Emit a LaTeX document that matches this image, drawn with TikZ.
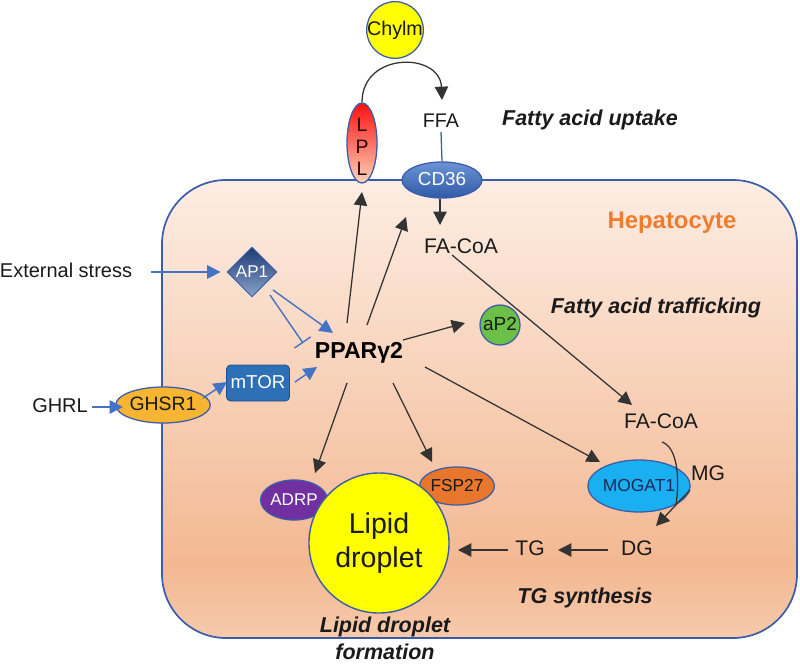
\documentclass[tikz,border=0pt]{standalone}
\usepackage{fontspec}
\setmainfont{Liberation Sans}
\usetikzlibrary{shapes.geometric,arrows.meta,calc}
\definecolor{txt}{HTML}{1A1A1A}
\definecolor{lineblk}{HTML}{333333}
\definecolor{arrblue}{HTML}{4472C4}
\definecolor{edgeblue}{HTML}{3B5CA8}
\definecolor{cellT}{HTML}{FDEDE3}
\definecolor{cellM}{HTML}{F8D4BD}
\definecolor{cellD}{HTML}{F3B892}
\definecolor{cellE}{HTML}{F6CAAC}
\definecolor{hep}{HTML}{ED7D31}
\definecolor{chyl}{HTML}{FFFF00}
\definecolor{lplTop}{HTML}{FF1010}
\definecolor{lplBot}{HTML}{FBD4B8}
\definecolor{cdTop}{HTML}{6C93D6}
\definecolor{cdBot}{HTML}{2F5AA6}
\definecolor{apTop}{HTML}{1C3A72}
\definecolor{apBot}{HTML}{8AA3CC}
\definecolor{mtor}{HTML}{2E70B6}
\definecolor{mtorEdge}{HTML}{1F4E8C}
\definecolor{ghsr}{HTML}{F8B532}
\definecolor{aptwo}{HTML}{6CBF47}
\definecolor{adrp}{HTML}{7030A0}
\definecolor{fsp}{HTML}{E8762D}
\definecolor{mogat}{HTML}{19AFF0}
\definecolor{mogtxt}{HTML}{1B2A5A}
\pgfdeclareverticalshading{cellshade}{100bp}{color(0bp)=(cellE); color(25bp)=(cellE); color(33bp)=(cellD); color(55bp)=(cellM); color(75bp)=(cellT); color(100bp)=(cellT)}
\tikzset{
  lbl/.style={inner sep=0pt, text height=0.72em, text depth=0pt, text=txt, font=\fontsize{14.2}{17}\selectfont},
  lblb/.style={lbl, font=\fontsize{15}{18}\selectfont},
  hd/.style={inner sep=0pt, text=txt, text height=0.72em, text depth=0pt, font=\fontsize{15.3}{19}\selectfont\bfseries\itshape},
  prot/.style={ellipse, draw=edgeblue, line width=0.9pt, inner sep=0pt, text height=0.72em, text depth=0pt},
  blk/.style={draw=lineblk, line width=0.9pt, -{Triangle[length=9.5pt,width=9.5pt]}},
  blu/.style={draw=arrblue, line width=1pt, -{Triangle[length=9.5pt,width=9.5pt]}},
  inh/.style={draw=arrblue, line width=1pt, -{Bar[width=14pt,line width=1pt]}},
  plainln/.style={draw=lineblk, line width=0.9pt}
}
\begin{document}
\begin{tikzpicture}[x=0.025cm, y=-0.025cm]
\useasboundingbox (0,0) rectangle (800,664);
\fill[white] (0,0) rectangle (800,664);
% cell
\shadedraw[shading=cellshade, draw=edgeblue, line width=1.2pt, rounded corners=1.6cm] (162,180) rectangle (797,638);

% membrane proteins and outside
\node[circle, fill=chyl, draw=edgeblue, line width=0.9pt, minimum size=1.4cm, inner sep=0pt, text height=0.72em, text depth=0pt, font=\fontsize{14}{17}\selectfont, text=txt] (chylm) at (395,30) {Chylm};
\node[prot, top color=lplTop, bottom color=lplBot, minimum width=0.75cm, minimum height=2cm] (lpl) at (362,143) {};
\node[inner sep=0pt, align=center, text=black!85!red, font=\fontsize{13.8}{15.5}\selectfont] (lpltxt) at (362,147) {L\\P\\L};
\node[lbl, font=\fontsize{14}{17}\selectfont] (ffa) at (441,122) {FFA};
\node[prot, top color=cdTop, bottom color=cdBot, minimum width=2cm, minimum height=0.9cm, text=white, font=\fontsize{13.4}{16}\selectfont] (cd36) at (442,180) {CD36};
\node[hd] (upt) at (590,120) {Fatty acid uptake};

% left side
\node[lbl] (ext) at (66,272) {External stress};
\node[lbl] (ghrl) at (60,407) {GHRL};
\node[diamond, top color=apTop, bottom color=apBot, draw=edgeblue, line width=0.6pt, minimum width=1.25cm, minimum height=1.25cm, inner sep=0pt, text=white, text height=0.72em, text depth=0pt, font=\fontsize{12.1}{14}\selectfont] (ap1) at (252,272) {AP1};
\node[rectangle, rounded corners=3pt, fill=mtor, draw=mtorEdge, line width=0.6pt, minimum width=1.575cm, minimum height=0.9cm, inner sep=0pt, text=white, text height=0.72em, text depth=0pt, font=\fontsize{13.3}{16}\selectfont] (mtor) at (258,383) {mTOR};
\node[prot, fill=ghsr, minimum width=1.95cm, minimum height=0.9cm, text=txt, font=\fontsize{13.8}{16}\selectfont] (ghsr1) at (163,405) {GHSR1};

% centre
\node[inner sep=0pt, text height=0.72em, text depth=0pt, text=black, font=\fontsize{16.4}{19}\selectfont\bfseries] (ppar) at (359,353) {PPARγ2};
\node[inner sep=0pt, text height=0.72em, text depth=0pt, text=hep, font=\fontsize{17}{20}\selectfont\bfseries] (hepa) at (672,223) {Hepatocyte};
\node[lblb] (facoa1) at (461,248) {FA-CoA};
\node[hd] (traf) at (656,308) {Fatty acid trafficking};
\node[circle, fill=aptwo, draw=edgeblue, line width=0.9pt, minimum size=1cm, inner sep=0pt, text height=0.72em, text depth=0pt, text=txt, font=\fontsize{13.5}{16}\selectfont] (ap2) at (500,325) {aP2};
\node[lblb] (facoa2) at (661,423) {FA-CoA};
\node[lblb] (mg) at (708,475) {MG};
\node[prot, fill=mogat, minimum width=2.05cm, minimum height=1.3cm, text=mogtxt, font=\fontsize{12.4}{15}\selectfont] (mogat) at (639,486) {MOGAT1};
\node[lblb] (dg) at (637,550) {DG};
\node[lblb] (tg) at (530,550) {TG};
\node[hd] (tgs) at (585,598) {TG synthesis};

% lipid droplet
\node[prot, fill=adrp, minimum width=1.35cm, minimum height=1cm, text=white, font=\fontsize{12.1}{14}\selectfont] (adrp) at (294,500) {ADRP};
\node[prot, fill=fsp, minimum width=1.425cm, minimum height=0.95cm, text=txt, font=\fontsize{12.3}{14}\selectfont] (fsp) at (457,486) {FSP27};
\node[circle, fill=chyl, draw=edgeblue, line width=1pt, minimum size=3.5cm, inner sep=0pt, align=center, text=txt, font=\fontsize{20.3}{24.2}\selectfont] (drop) at (379,543) {Lipid\\droplet};
\node[inner sep=0pt, align=center, text=txt, font=\fontsize{15.3}{19.2}\selectfont\bfseries\itshape] (ldf) at (385,638) {Lipid droplet\\formation};

\coordinate (uptk) at (406,217);

% black connectors
\draw[blk] (lpl.north) .. controls ($(lpl.north)+(0,-51)$) and ($(ffa)+(-1,-70)$) .. ($(ffa)+(1,-22)$);
\draw[draw=edgeblue, line width=0.9pt] ($(ffa)+(0,10)$) -- (cd36.north);
\draw[blk] ($(cd36.south)+(-2,0)$) -- ($(facoa1)+(-21,-23)$);
\draw[blk] ($(ppar)+(-12,-30)$) -- ($(lpl)+(0,49)$);
\draw[blk] ($(ppar)+(8,-28)$) -- (uptk);
\draw[blk] ($(ppar)+(44,-13)$) -- ($(ap2)+(-35,-2)$);
\draw[blk] ($(facoa1)+(-9,7)$) -- ($(facoa2)+(-29,-18)$);
\draw[blk] ($(ppar)+(66,14)$) -- ($(mogat)+(-39,-24)$);
\draw[blk] ($(ppar)+(-12,30)$) -- ($(adrp)+(21,-27)$);
\draw[blk] ($(ppar)+(34,30)$) -- ($(fsp)+(-25,-24)$);
\draw[plainln] ($(facoa2)+(1,19)$) .. controls ($(facoa2)+(16,24)$) and ($(mg)+(-28,2)$) .. ($(mg)+(-32,30)$);
\draw[blk] ($(mg)+(-18,15)$) -- ($(dg)+(19,-24)$);
\draw[blk] ($(dg)+(-29,0)$) -- ($(tg)+(28,0)$);
\draw[blk] ($(tg)+(-22,0)$) -- ($(drop)+(79,7)$);

% blue connectors
\draw[blu] ($(ext.east)+(19,0)$) -- ($(ap1.west)+(-6,0)$);
\draw[blu] ($(ap1)+(21,18)$) -- ($(ppar)+(-26,-20)$);
\draw[inh] ($(ap1)+(18,23)$) -- ($(ppar)+(-56,-10)$);
\draw[blu] ($(mtor)+(37,-1)$) -- ($(ppar)+(-42,14)$);
\draw[blu] ($(ghrl)+(32,0)$) -- ($(ghsr1)+(-40,2)$);
\draw[blu] ($(ghsr1)+(40,-7)$) -- ($(mtor)+(-31,-1)$);
\end{tikzpicture}
\end{document}
